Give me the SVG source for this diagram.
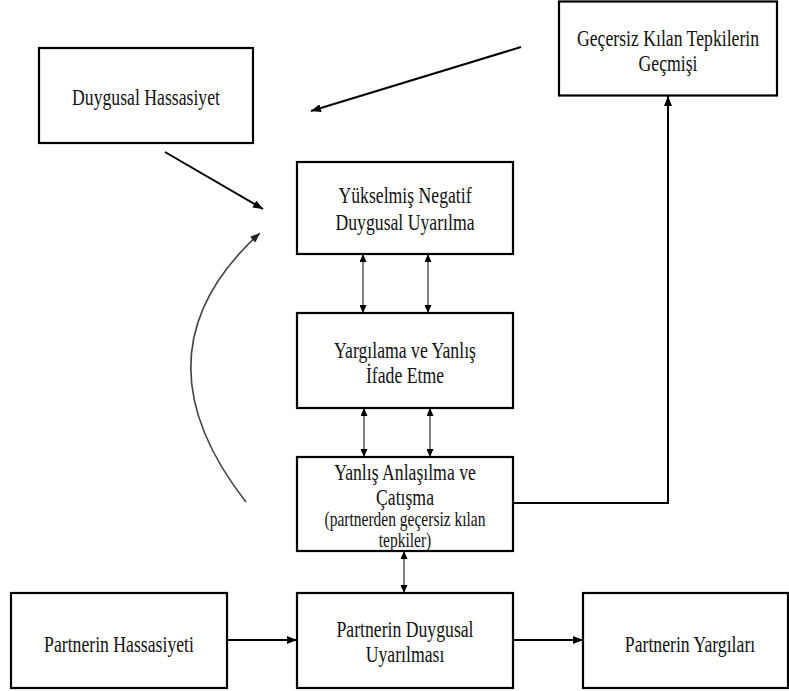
<svg xmlns="http://www.w3.org/2000/svg" width="789" height="691" viewBox="0 0 789 691">
  <defs>
    <marker id="head" viewBox="0 0 10 8" refX="10" refY="4" markerWidth="10" markerHeight="8" markerUnits="userSpaceOnUse" orient="auto">
      <path d="M0,0 L10,4 L0,8 Z" fill="#000"/>
    </marker>
    <marker id="headSmall" viewBox="0 0 8 7" refX="8" refY="3.5" markerWidth="8" markerHeight="7" markerUnits="userSpaceOnUse" orient="auto-start-reverse">
      <path d="M0,0 L8,3.5 L0,7 Z" fill="#000"/>
    </marker>
    <marker id="headCurve" viewBox="0 0 10 8" refX="10" refY="4" markerWidth="10" markerHeight="8" markerUnits="userSpaceOnUse" orient="auto">
      <path d="M0,0 L10,4 L0,8 Z" fill="#222"/>
    </marker>
  </defs>
  <style>
    .box { fill: #fff; stroke: #000; stroke-width: 2.2; }
    .lbl { font-family: "Liberation Serif", "Times New Roman", serif; font-size: 17.7px; fill: #111; text-anchor: middle; }
    .sm { font-size: 15.5px; }
    .thick { fill: none; stroke: #000; stroke-width: 2; marker-end: url(#head); }
    .both { fill: none; stroke: #000; stroke-width: 1; marker-start: url(#headSmall); marker-end: url(#headSmall); }
    .curve { fill: none; stroke: #444; stroke-width: 1.6; marker-end: url(#headCurve); }
  </style>

  <!-- connectors -->
  <g id="connectors">
    <line class="thick" x1="521" y1="47" x2="311" y2="111"/>
    <line class="thick" x1="165" y1="152" x2="263" y2="209"/>
    <path class="curve" d="M246,502 Q129,352 260,233"/>
    <line class="both" x1="363" y1="254" x2="363" y2="313"/>
    <line class="both" x1="428" y1="254" x2="428" y2="313"/>
    <line class="both" x1="364" y1="408" x2="364" y2="457"/>
    <line class="both" x1="430" y1="408" x2="430" y2="457"/>
    <line class="both" x1="404" y1="551" x2="404" y2="593"/>
    <line class="thick" x1="227" y1="640" x2="297" y2="640"/>
    <line class="thick" x1="513" y1="640" x2="583" y2="640"/>
    <path class="thick" d="M513,503 H668 V96"/>
  </g>

  <g id="duygusal-hassasiyet">
    <rect class="box" x="39" y="48" width="214" height="95"/>
    <text class="lbl" transform="translate(146,105) scale(1,1.3)">Duygusal Hassasiyet</text>
  </g>

  <g id="gecersiz-gecmis">
    <rect class="box" x="559" y="1.5" width="218" height="94"/>
    <text class="lbl" transform="translate(668,46) scale(1,1.3)">Geçersiz Kılan Tepkilerin</text>
    <text class="lbl" transform="translate(668,71) scale(1,1.3)">Geçmişi</text>
  </g>

  <g id="yukselmis">
    <rect class="box" x="297" y="162" width="216" height="92"/>
    <text class="lbl" transform="translate(405,203) scale(1,1.3)">Yükselmiş Negatif</text>
    <text class="lbl" transform="translate(405,230) scale(1,1.3)">Duygusal Uyarılma</text>
  </g>

  <g id="yargilama">
    <rect class="box" x="297" y="313" width="216" height="95"/>
    <text class="lbl" transform="translate(405,358) scale(1,1.3)">Yargılama ve Yanlış</text>
    <text class="lbl" transform="translate(405,383) scale(1,1.3)">İfade Etme</text>
  </g>

  <g id="yanlis-anlasilma">
    <rect class="box" x="297" y="457" width="216" height="94"/>
    <text class="lbl" transform="translate(405,480) scale(1,1.3)">Yanlış Anlaşılma ve</text>
    <text class="lbl" transform="translate(405,505) scale(1,1.3)">Çatışma</text>
    <text class="lbl sm" transform="translate(405,526) scale(1,1.3)">(partnerden geçersiz kılan</text>
    <text class="lbl sm" transform="translate(405,547) scale(1,1.3)">tepkiler)</text>
  </g>

  <g id="partner-hassasiyet">
    <rect class="box" x="11" y="593" width="216" height="95"/>
    <text class="lbl" transform="translate(119,652) scale(1,1.3)">Partnerin Hassasiyeti</text>
  </g>

  <g id="partner-uyarilma">
    <rect class="box" x="297" y="593" width="216" height="95"/>
    <text class="lbl" transform="translate(405,637) scale(1,1.3)">Partnerin Duygusal</text>
    <text class="lbl" transform="translate(405,662) scale(1,1.3)">Uyarılması</text>
  </g>

  <g id="partner-yargilar">
    <rect class="box" x="583" y="593" width="205" height="95"/>
    <text class="lbl" transform="translate(690,652) scale(1,1.3)">Partnerin Yargıları</text>
  </g>
</svg>
